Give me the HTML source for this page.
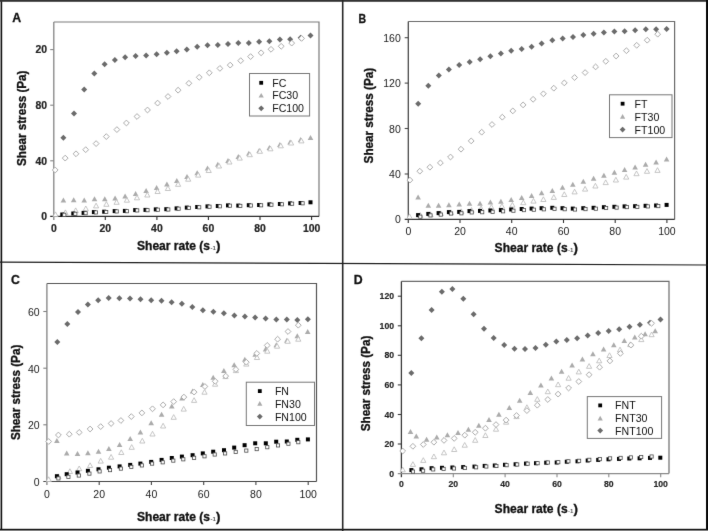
<!DOCTYPE html><html><head><meta charset="utf-8"><style>html,body{margin:0;padding:0;background:#fff;width:708px;height:531px;overflow:hidden}svg{display:block;filter:grayscale(1)}</style></head><body>
<svg width="708" height="531" viewBox="0 0 708 531" font-family='"Liberation Sans", sans-serif'>
<defs><filter id="bl" x="0" y="0" width="100%" height="100%" filterUnits="userSpaceOnUse" color-interpolation-filters="sRGB"><feConvolveMatrix order="3" kernelMatrix="0.00524 0.06192 0.00524 0.06192 0.73137 0.06192 0.00524 0.06192 0.00524" edgeMode="duplicate" preserveAlpha="true"/></filter></defs>
<g filter="url(#bl)">
<rect width="708" height="531" fill="#fff"/>
<path d="M53.8 22.0H319.0V216.4" fill="none" stroke="#7a7a7a" stroke-width="1.2"/>
<path d="M53.8 22.0V220.0" fill="none" stroke="#858585" stroke-width="1.3"/>
<path d="M50.2 216.4H319.0" fill="none" stroke="#2a2a2a" stroke-width="1.2"/>
<path d="M105.3 216.4V220.0" stroke="#2a2a2a" stroke-width="1.1"/>
<path d="M156.9 216.4V220.0" stroke="#2a2a2a" stroke-width="1.1"/>
<path d="M208.4 216.4V220.0" stroke="#2a2a2a" stroke-width="1.1"/>
<path d="M260.0 216.4V220.0" stroke="#2a2a2a" stroke-width="1.1"/>
<path d="M311.6 216.4V220.0" stroke="#2a2a2a" stroke-width="1.1"/>
<path d="M50.2 160.8H53.8" stroke="#858585" stroke-width="1.1"/>
<path d="M50.2 105.2H53.8" stroke="#858585" stroke-width="1.1"/>
<path d="M50.2 49.6H53.8" stroke="#858585" stroke-width="1.1"/>
<text x="47.0" y="220.1" font-size="10.4" font-weight="bold" text-anchor="end" fill="#222" stroke="#222" stroke-width="0.2">0</text>
<text x="47.0" y="164.5" font-size="10.4" font-weight="bold" text-anchor="end" fill="#222" stroke="#222" stroke-width="0.2">40</text>
<text x="47.0" y="108.9" font-size="10.4" font-weight="bold" text-anchor="end" fill="#222" stroke="#222" stroke-width="0.2">80</text>
<text x="47.0" y="53.3" font-size="10.4" font-weight="bold" text-anchor="end" fill="#222" stroke="#222" stroke-width="0.2">20</text>
<text x="53.8" y="231.5" font-size="10.4" font-weight="bold" text-anchor="middle" fill="#222" stroke="#222" stroke-width="0.2">0</text>
<text x="105.3" y="231.5" font-size="10.4" font-weight="bold" text-anchor="middle" fill="#222" stroke="#222" stroke-width="0.2">20</text>
<text x="156.9" y="231.5" font-size="10.4" font-weight="bold" text-anchor="middle" fill="#222" stroke="#222" stroke-width="0.2">40</text>
<text x="208.4" y="231.5" font-size="10.4" font-weight="bold" text-anchor="middle" fill="#222" stroke="#222" stroke-width="0.2">60</text>
<text x="260.0" y="231.5" font-size="10.4" font-weight="bold" text-anchor="middle" fill="#222" stroke="#222" stroke-width="0.2">80</text>
<text x="311.6" y="231.5" font-size="10.4" font-weight="bold" text-anchor="middle" fill="#222" stroke="#222" stroke-width="0.2">100</text>
<text x="12.3" y="21.6" font-size="12.3" font-weight="bold" fill="#111" stroke="#111" stroke-width="0.3">A</text>
<rect x="249.5" y="73.5" width="60.1" height="42.5" fill="#fff" stroke="#777" stroke-width="1"/>
<rect x="259.3" y="80.9" width="3.8" height="3.8" fill="#000"/>
<path d="M261.2 92.9L263.8 97.6L258.6 97.6Z" fill="#ababab"/>
<path d="M261.2 105.4L264.1 108.3L261.2 111.2L258.3 108.3Z" fill="#6b6b6b"/>
<text x="272.2" y="86.7" font-size="10.6" fill="#111">FC</text>
<text x="272.2" y="99.4" font-size="10.6" fill="#111">FC30</text>
<text x="272.2" y="112.2" font-size="10.6" fill="#111">FC100</text>
<text x="137.0" y="249.7" font-size="13.3" font-weight="bold" fill="#111" stroke="#111" stroke-width="0.35" textLength="73.0" lengthAdjust="spacingAndGlyphs">Shear rate (s</text>
<text x="210.4" y="249.7" font-size="4.6" font-weight="bold" fill="#555" textLength="5.4" lengthAdjust="spacingAndGlyphs">-1</text>
<text x="215.9" y="249.7" font-size="13.3" font-weight="bold" fill="#111" stroke="#111" stroke-width="0.35">)</text>
<text transform="translate(26.0 166.0) rotate(-90)" x="0" y="0" font-size="13.3" font-weight="bold" fill="#111" stroke="#111" stroke-width="0.35" textLength="95.5" lengthAdjust="spacingAndGlyphs">Shear stress (Pa)</text>
<path d="M63.4 197.5L66.2 202.5L60.6 202.5Z" fill="#ababab"/>
<path d="M73.7 197.3L76.5 202.3L70.9 202.3Z" fill="#ababab"/>
<path d="M84.2 197.5L87.0 202.5L81.4 202.5Z" fill="#ababab"/>
<path d="M94.5 196.3L97.3 201.3L91.7 201.3Z" fill="#ababab"/>
<path d="M104.8 196.3L107.6 201.3L102.0 201.3Z" fill="#ababab"/>
<path d="M115.1 195.5L117.9 200.5L112.3 200.5Z" fill="#ababab"/>
<path d="M125.1 193.5L127.9 198.5L122.3 198.5Z" fill="#ababab"/>
<path d="M135.6 190.9L138.4 195.9L132.8 195.9Z" fill="#ababab"/>
<path d="M146.1 188.0L148.9 193.0L143.3 193.0Z" fill="#ababab"/>
<path d="M156.6 185.0L159.4 190.0L153.8 190.0Z" fill="#ababab"/>
<path d="M166.9 181.6L169.7 186.6L164.1 186.6Z" fill="#ababab"/>
<path d="M176.8 178.1L179.6 183.1L174.0 183.1Z" fill="#ababab"/>
<path d="M187.0 174.1L189.8 179.1L184.2 179.1Z" fill="#ababab"/>
<path d="M197.2 170.2L200.0 175.2L194.4 175.2Z" fill="#ababab"/>
<path d="M207.5 165.6L210.3 170.6L204.7 170.6Z" fill="#ababab"/>
<path d="M217.8 161.7L220.6 166.7L215.0 166.7Z" fill="#ababab"/>
<path d="M228.0 157.9L230.8 162.9L225.2 162.9Z" fill="#ababab"/>
<path d="M238.3 154.0L241.1 159.0L235.5 159.0Z" fill="#ababab"/>
<path d="M248.8 150.8L251.6 155.8L246.0 155.8Z" fill="#ababab"/>
<path d="M259.1 147.9L261.9 152.9L256.3 152.9Z" fill="#ababab"/>
<path d="M269.4 144.9L272.2 149.9L266.6 149.9Z" fill="#ababab"/>
<path d="M279.9 141.9L282.7 146.9L277.1 146.9Z" fill="#ababab"/>
<path d="M290.1 139.5L292.9 144.5L287.3 144.5Z" fill="#ababab"/>
<path d="M300.6 137.0L303.4 142.0L297.8 142.0Z" fill="#ababab"/>
<path d="M310.5 135.0L313.3 140.0L307.7 140.0Z" fill="#ababab"/>
<path d="M55.5 211.9L58.1 216.6L52.9 216.6Z" fill="#fff" stroke="#b8b8b8" stroke-width="0.8"/>
<path d="M65.4 209.9L68.0 214.6L62.8 214.6Z" fill="#fff" stroke="#b8b8b8" stroke-width="0.8"/>
<path d="M75.7 207.9L78.3 212.6L73.1 212.6Z" fill="#fff" stroke="#b8b8b8" stroke-width="0.8"/>
<path d="M85.8 206.0L88.4 210.7L83.2 210.7Z" fill="#fff" stroke="#b8b8b8" stroke-width="0.8"/>
<path d="M96.1 203.2L98.7 207.9L93.5 207.9Z" fill="#fff" stroke="#b8b8b8" stroke-width="0.8"/>
<path d="M106.4 201.6L109.0 206.3L103.8 206.3Z" fill="#fff" stroke="#b8b8b8" stroke-width="0.8"/>
<path d="M116.6 199.6L119.2 204.3L114.0 204.3Z" fill="#fff" stroke="#b8b8b8" stroke-width="0.8"/>
<path d="M126.9 197.5L129.5 202.2L124.3 202.2Z" fill="#fff" stroke="#b8b8b8" stroke-width="0.8"/>
<path d="M137.0 195.1L139.6 199.8L134.4 199.8Z" fill="#fff" stroke="#b8b8b8" stroke-width="0.8"/>
<path d="M147.3 192.3L149.9 197.0L144.7 197.0Z" fill="#fff" stroke="#b8b8b8" stroke-width="0.8"/>
<path d="M157.6 188.8L160.2 193.5L155.0 193.5Z" fill="#fff" stroke="#b8b8b8" stroke-width="0.8"/>
<path d="M167.9 185.8L170.5 190.5L165.3 190.5Z" fill="#fff" stroke="#b8b8b8" stroke-width="0.8"/>
<path d="M178.1 181.6L180.7 186.3L175.5 186.3Z" fill="#fff" stroke="#b8b8b8" stroke-width="0.8"/>
<path d="M188.2 176.5L190.8 181.2L185.6 181.2Z" fill="#fff" stroke="#b8b8b8" stroke-width="0.8"/>
<path d="M198.2 172.4L200.8 177.1L195.6 177.1Z" fill="#fff" stroke="#b8b8b8" stroke-width="0.8"/>
<path d="M208.7 167.8L211.3 172.5L206.1 172.5Z" fill="#fff" stroke="#b8b8b8" stroke-width="0.8"/>
<path d="M219.0 163.3L221.6 168.0L216.4 168.0Z" fill="#fff" stroke="#b8b8b8" stroke-width="0.8"/>
<path d="M229.4 159.3L232.0 164.0L226.8 164.0Z" fill="#fff" stroke="#b8b8b8" stroke-width="0.8"/>
<path d="M239.7 155.4L242.3 160.1L237.1 160.1Z" fill="#fff" stroke="#b8b8b8" stroke-width="0.8"/>
<path d="M249.8 152.0L252.4 156.7L247.2 156.7Z" fill="#fff" stroke="#b8b8b8" stroke-width="0.8"/>
<path d="M259.9 148.6L262.5 153.3L257.3 153.3Z" fill="#fff" stroke="#b8b8b8" stroke-width="0.8"/>
<path d="M270.4 146.1L273.0 150.8L267.8 150.8Z" fill="#fff" stroke="#b8b8b8" stroke-width="0.8"/>
<path d="M280.8 143.1L283.4 147.8L278.2 147.8Z" fill="#fff" stroke="#b8b8b8" stroke-width="0.8"/>
<path d="M291.1 140.3L293.7 145.0L288.5 145.0Z" fill="#fff" stroke="#b8b8b8" stroke-width="0.8"/>
<path d="M301.4 138.2L304.0 142.9L298.8 142.9Z" fill="#fff" stroke="#b8b8b8" stroke-width="0.8"/>
<rect x="60.3" y="212.5" width="4.0" height="4.0" fill="#000"/>
<rect x="71.3" y="211.5" width="4.0" height="4.0" fill="#000"/>
<rect x="81.6" y="210.9" width="4.0" height="4.0" fill="#000"/>
<rect x="91.9" y="210.1" width="4.0" height="4.0" fill="#000"/>
<rect x="102.2" y="209.7" width="4.0" height="4.0" fill="#000"/>
<rect x="112.7" y="209.1" width="4.0" height="4.0" fill="#000"/>
<rect x="122.9" y="208.9" width="4.0" height="4.0" fill="#000"/>
<rect x="133.2" y="208.1" width="4.0" height="4.0" fill="#000"/>
<rect x="143.5" y="207.9" width="4.0" height="4.0" fill="#000"/>
<rect x="153.8" y="207.4" width="4.0" height="4.0" fill="#000"/>
<rect x="164.3" y="207.2" width="4.0" height="4.0" fill="#000"/>
<rect x="174.6" y="206.4" width="4.0" height="4.0" fill="#000"/>
<rect x="184.8" y="205.6" width="4.0" height="4.0" fill="#000"/>
<rect x="195.2" y="205.0" width="4.0" height="4.0" fill="#000"/>
<rect x="205.5" y="204.4" width="4.0" height="4.0" fill="#000"/>
<rect x="215.8" y="204.0" width="4.0" height="4.0" fill="#000"/>
<rect x="226.0" y="203.4" width="4.0" height="4.0" fill="#000"/>
<rect x="236.3" y="203.6" width="4.0" height="4.0" fill="#000"/>
<rect x="246.8" y="203.2" width="4.0" height="4.0" fill="#000"/>
<rect x="257.1" y="203.0" width="4.0" height="4.0" fill="#000"/>
<rect x="267.4" y="202.4" width="4.0" height="4.0" fill="#000"/>
<rect x="277.9" y="202.0" width="4.0" height="4.0" fill="#000"/>
<rect x="288.1" y="201.4" width="4.0" height="4.0" fill="#000"/>
<rect x="298.6" y="201.0" width="4.0" height="4.0" fill="#000"/>
<rect x="308.5" y="200.3" width="4.0" height="4.0" fill="#000"/>
<rect x="62.7" y="213.2" width="3.2" height="3.2" fill="#fff" stroke="#4a4a4a" stroke-width="0.8"/>
<rect x="73.7" y="212.2" width="3.2" height="3.2" fill="#fff" stroke="#4a4a4a" stroke-width="0.8"/>
<rect x="84.0" y="211.6" width="3.2" height="3.2" fill="#fff" stroke="#4a4a4a" stroke-width="0.8"/>
<rect x="94.3" y="210.8" width="3.2" height="3.2" fill="#fff" stroke="#4a4a4a" stroke-width="0.8"/>
<rect x="104.6" y="210.4" width="3.2" height="3.2" fill="#fff" stroke="#4a4a4a" stroke-width="0.8"/>
<rect x="115.1" y="209.8" width="3.2" height="3.2" fill="#fff" stroke="#4a4a4a" stroke-width="0.8"/>
<rect x="125.3" y="209.6" width="3.2" height="3.2" fill="#fff" stroke="#4a4a4a" stroke-width="0.8"/>
<rect x="135.6" y="208.8" width="3.2" height="3.2" fill="#fff" stroke="#4a4a4a" stroke-width="0.8"/>
<rect x="145.9" y="208.6" width="3.2" height="3.2" fill="#fff" stroke="#4a4a4a" stroke-width="0.8"/>
<rect x="156.2" y="208.1" width="3.2" height="3.2" fill="#fff" stroke="#4a4a4a" stroke-width="0.8"/>
<rect x="166.7" y="207.9" width="3.2" height="3.2" fill="#fff" stroke="#4a4a4a" stroke-width="0.8"/>
<rect x="177.0" y="207.1" width="3.2" height="3.2" fill="#fff" stroke="#4a4a4a" stroke-width="0.8"/>
<rect x="187.2" y="206.3" width="3.2" height="3.2" fill="#fff" stroke="#4a4a4a" stroke-width="0.8"/>
<rect x="197.6" y="205.7" width="3.2" height="3.2" fill="#fff" stroke="#4a4a4a" stroke-width="0.8"/>
<rect x="207.9" y="205.1" width="3.2" height="3.2" fill="#fff" stroke="#4a4a4a" stroke-width="0.8"/>
<rect x="218.2" y="204.7" width="3.2" height="3.2" fill="#fff" stroke="#4a4a4a" stroke-width="0.8"/>
<rect x="228.4" y="204.1" width="3.2" height="3.2" fill="#fff" stroke="#4a4a4a" stroke-width="0.8"/>
<rect x="238.7" y="204.3" width="3.2" height="3.2" fill="#fff" stroke="#4a4a4a" stroke-width="0.8"/>
<rect x="249.2" y="203.9" width="3.2" height="3.2" fill="#fff" stroke="#4a4a4a" stroke-width="0.8"/>
<rect x="259.5" y="203.7" width="3.2" height="3.2" fill="#fff" stroke="#4a4a4a" stroke-width="0.8"/>
<rect x="269.8" y="203.1" width="3.2" height="3.2" fill="#fff" stroke="#4a4a4a" stroke-width="0.8"/>
<rect x="280.3" y="202.7" width="3.2" height="3.2" fill="#fff" stroke="#4a4a4a" stroke-width="0.8"/>
<rect x="290.5" y="202.1" width="3.2" height="3.2" fill="#fff" stroke="#4a4a4a" stroke-width="0.8"/>
<rect x="301.0" y="201.7" width="3.2" height="3.2" fill="#fff" stroke="#4a4a4a" stroke-width="0.8"/>
<path d="M63.4 134.7L66.4 137.7L63.4 140.7L60.4 137.7Z" fill="#6b6b6b"/>
<path d="M74.0 110.6L77.0 113.6L74.0 116.6L71.0 113.6Z" fill="#6b6b6b"/>
<path d="M84.2 86.4L87.2 89.4L84.2 92.4L81.2 89.4Z" fill="#6b6b6b"/>
<path d="M94.3 70.4L97.3 73.4L94.3 76.4L91.3 73.4Z" fill="#6b6b6b"/>
<path d="M104.6 61.3L107.6 64.3L104.6 67.3L101.6 64.3Z" fill="#6b6b6b"/>
<path d="M114.9 56.9L117.9 59.9L114.9 62.9L111.9 59.9Z" fill="#6b6b6b"/>
<path d="M125.1 54.2L128.1 57.2L125.1 60.2L122.1 57.2Z" fill="#6b6b6b"/>
<path d="M135.6 53.0L138.6 56.0L135.6 59.0L132.6 56.0Z" fill="#6b6b6b"/>
<path d="M146.1 52.4L149.1 55.4L146.1 58.4L143.1 55.4Z" fill="#6b6b6b"/>
<path d="M156.6 51.2L159.6 54.2L156.6 57.2L153.6 54.2Z" fill="#6b6b6b"/>
<path d="M166.9 49.8L169.9 52.8L166.9 55.8L163.9 52.8Z" fill="#6b6b6b"/>
<path d="M176.6 48.2L179.6 51.2L176.6 54.2L173.6 51.2Z" fill="#6b6b6b"/>
<path d="M186.8 46.6L189.8 49.6L186.8 52.6L183.8 49.6Z" fill="#6b6b6b"/>
<path d="M197.2 43.7L200.2 46.7L197.2 49.7L194.2 46.7Z" fill="#6b6b6b"/>
<path d="M207.5 42.3L210.5 45.3L207.5 48.3L204.5 45.3Z" fill="#6b6b6b"/>
<path d="M217.8 42.1L220.8 45.1L217.8 48.1L214.8 45.1Z" fill="#6b6b6b"/>
<path d="M228.0 41.1L231.0 44.1L228.0 47.1L225.0 44.1Z" fill="#6b6b6b"/>
<path d="M238.3 40.1L241.3 43.1L238.3 46.1L235.3 43.1Z" fill="#6b6b6b"/>
<path d="M248.8 40.1L251.8 43.1L248.8 46.1L245.8 43.1Z" fill="#6b6b6b"/>
<path d="M259.1 38.8L262.1 41.8L259.1 44.8L256.1 41.8Z" fill="#6b6b6b"/>
<path d="M269.4 38.2L272.4 41.2L269.4 44.2L266.4 41.2Z" fill="#6b6b6b"/>
<path d="M279.9 36.4L282.9 39.4L279.9 42.4L276.9 39.4Z" fill="#6b6b6b"/>
<path d="M290.1 36.2L293.1 39.2L290.1 42.2L287.1 39.2Z" fill="#6b6b6b"/>
<path d="M300.6 34.8L303.6 37.8L300.6 40.8L297.6 37.8Z" fill="#6b6b6b"/>
<path d="M310.5 32.6L313.5 35.6L310.5 38.6L307.5 35.6Z" fill="#6b6b6b"/>
<path d="M55.2 167.1L58.1 170.0L55.2 172.9L52.3 170.0Z" fill="#fff" stroke="#a2a2a2" stroke-width="0.9"/>
<path d="M65.2 155.2L68.1 158.1L65.2 161.0L62.3 158.1Z" fill="#fff" stroke="#a2a2a2" stroke-width="0.9"/>
<path d="M76.0 150.9L78.9 153.8L76.0 156.7L73.1 153.8Z" fill="#fff" stroke="#a2a2a2" stroke-width="0.9"/>
<path d="M85.7 146.8L88.6 149.7L85.7 152.6L82.8 149.7Z" fill="#fff" stroke="#a2a2a2" stroke-width="0.9"/>
<path d="M96.1 140.7L99.0 143.6L96.1 146.5L93.2 143.6Z" fill="#fff" stroke="#a2a2a2" stroke-width="0.9"/>
<path d="M106.3 133.7L109.2 136.6L106.3 139.5L103.4 136.6Z" fill="#fff" stroke="#a2a2a2" stroke-width="0.9"/>
<path d="M116.9 126.7L119.8 129.6L116.9 132.5L114.0 129.6Z" fill="#fff" stroke="#a2a2a2" stroke-width="0.9"/>
<path d="M126.4 120.1L129.3 123.0L126.4 125.9L123.5 123.0Z" fill="#fff" stroke="#a2a2a2" stroke-width="0.9"/>
<path d="M137.0 113.6L139.9 116.5L137.0 119.4L134.1 116.5Z" fill="#fff" stroke="#a2a2a2" stroke-width="0.9"/>
<path d="M147.5 107.1L150.4 110.0L147.5 112.9L144.6 110.0Z" fill="#fff" stroke="#a2a2a2" stroke-width="0.9"/>
<path d="M157.6 100.2L160.5 103.1L157.6 106.0L154.7 103.1Z" fill="#fff" stroke="#a2a2a2" stroke-width="0.9"/>
<path d="M168.0 93.6L170.9 96.5L168.0 99.4L165.1 96.5Z" fill="#fff" stroke="#a2a2a2" stroke-width="0.9"/>
<path d="M178.1 87.3L181.0 90.2L178.1 93.1L175.2 90.2Z" fill="#fff" stroke="#a2a2a2" stroke-width="0.9"/>
<path d="M188.9 80.4L191.8 83.3L188.9 86.2L186.0 83.3Z" fill="#fff" stroke="#a2a2a2" stroke-width="0.9"/>
<path d="M199.2 74.4L202.1 77.3L199.2 80.2L196.3 77.3Z" fill="#fff" stroke="#a2a2a2" stroke-width="0.9"/>
<path d="M209.3 69.9L212.2 72.8L209.3 75.7L206.4 72.8Z" fill="#fff" stroke="#a2a2a2" stroke-width="0.9"/>
<path d="M219.9 65.5L222.8 68.4L219.9 71.3L217.0 68.4Z" fill="#fff" stroke="#a2a2a2" stroke-width="0.9"/>
<path d="M230.2 62.2L233.1 65.1L230.2 68.0L227.3 65.1Z" fill="#fff" stroke="#a2a2a2" stroke-width="0.9"/>
<path d="M240.7 57.8L243.6 60.7L240.7 63.6L237.8 60.7Z" fill="#fff" stroke="#a2a2a2" stroke-width="0.9"/>
<path d="M250.6 53.7L253.5 56.6L250.6 59.5L247.7 56.6Z" fill="#fff" stroke="#a2a2a2" stroke-width="0.9"/>
<path d="M261.1 49.9L264.0 52.8L261.1 55.7L258.2 52.8Z" fill="#fff" stroke="#a2a2a2" stroke-width="0.9"/>
<path d="M271.0 46.4L273.9 49.3L271.0 52.2L268.1 49.3Z" fill="#fff" stroke="#a2a2a2" stroke-width="0.9"/>
<path d="M281.2 43.4L284.1 46.3L281.2 49.2L278.3 46.3Z" fill="#fff" stroke="#a2a2a2" stroke-width="0.9"/>
<path d="M291.7 40.2L294.6 43.1L291.7 46.0L288.8 43.1Z" fill="#fff" stroke="#a2a2a2" stroke-width="0.9"/>
<path d="M301.6 35.5L304.5 38.4L301.6 41.3L298.7 38.4Z" fill="#fff" stroke="#a2a2a2" stroke-width="0.9"/>
<path d="M408.3 21.5H674.6V219.4" fill="none" stroke="#6a6a6a" stroke-width="1.2"/>
<path d="M408.3 21.5V223.0" fill="none" stroke="#4a4a4a" stroke-width="1.3"/>
<path d="M404.7 219.4H674.6" fill="none" stroke="#333" stroke-width="1.2"/>
<path d="M460.0 219.4V223.0" stroke="#333" stroke-width="1.1"/>
<path d="M511.7 219.4V223.0" stroke="#333" stroke-width="1.1"/>
<path d="M563.5 219.4V223.0" stroke="#333" stroke-width="1.1"/>
<path d="M615.2 219.4V223.0" stroke="#333" stroke-width="1.1"/>
<path d="M666.9 219.4V223.0" stroke="#333" stroke-width="1.1"/>
<path d="M404.7 174.0H408.3" stroke="#4a4a4a" stroke-width="1.1"/>
<path d="M404.7 128.5H408.3" stroke="#4a4a4a" stroke-width="1.1"/>
<path d="M404.7 83.1H408.3" stroke="#4a4a4a" stroke-width="1.1"/>
<path d="M404.7 37.7H408.3" stroke="#4a4a4a" stroke-width="1.1"/>
<text x="400.8" y="223.4" font-size="10.5" font-weight="normal" text-anchor="end" fill="#222">0</text>
<text x="400.8" y="177.9" font-size="10.5" font-weight="normal" text-anchor="end" fill="#222">40</text>
<text x="400.8" y="132.5" font-size="10.5" font-weight="normal" text-anchor="end" fill="#222">80</text>
<text x="400.8" y="87.1" font-size="10.5" font-weight="normal" text-anchor="end" fill="#222">120</text>
<text x="400.8" y="41.7" font-size="10.5" font-weight="normal" text-anchor="end" fill="#222">160</text>
<text x="408.3" y="234.8" font-size="10.5" font-weight="normal" text-anchor="middle" fill="#222">0</text>
<text x="460.0" y="234.8" font-size="10.5" font-weight="normal" text-anchor="middle" fill="#222">20</text>
<text x="511.7" y="234.8" font-size="10.5" font-weight="normal" text-anchor="middle" fill="#222">40</text>
<text x="563.5" y="234.8" font-size="10.5" font-weight="normal" text-anchor="middle" fill="#222">60</text>
<text x="615.2" y="234.8" font-size="10.5" font-weight="normal" text-anchor="middle" fill="#222">80</text>
<text x="666.9" y="234.8" font-size="10.5" font-weight="normal" text-anchor="middle" fill="#222">100</text>
<text x="358.4" y="23.3" font-size="12.3" font-weight="bold" fill="#111" stroke="#111" stroke-width="0.3" textLength="7.6" lengthAdjust="spacingAndGlyphs">B</text>
<rect x="609.5" y="94.8" width="62.5" height="42.8" fill="#fff" stroke="#777" stroke-width="1"/>
<rect x="620.7" y="101.8" width="3.8" height="3.8" fill="#000"/>
<path d="M622.6 114.0L625.2 118.7L620.0 118.7Z" fill="#ababab"/>
<path d="M622.6 126.7L625.5 129.6L622.6 132.5L619.7 129.6Z" fill="#6b6b6b"/>
<text x="634.6" y="107.6" font-size="10.6" fill="#111">FT</text>
<text x="634.6" y="120.5" font-size="10.6" fill="#111">FT30</text>
<text x="634.6" y="133.5" font-size="10.6" fill="#111">FT100</text>
<text x="494.6" y="252.4" font-size="13.3" font-weight="bold" fill="#111" stroke="#111" stroke-width="0.35" textLength="73.0" lengthAdjust="spacingAndGlyphs">Shear rate (s</text>
<text x="568.0" y="252.4" font-size="4.6" font-weight="bold" fill="#555" textLength="5.4" lengthAdjust="spacingAndGlyphs">-1</text>
<text x="573.5" y="252.4" font-size="13.3" font-weight="bold" fill="#111" stroke="#111" stroke-width="0.35">)</text>
<text transform="translate(373.0 163.4) rotate(-90)" x="0" y="0" font-size="13.3" font-weight="bold" fill="#111" stroke="#111" stroke-width="0.35" textLength="95.5" lengthAdjust="spacingAndGlyphs">Shear stress (Pa)</text>
<path d="M418.1 194.5L420.9 199.5L415.3 199.5Z" fill="#ababab"/>
<path d="M428.3 202.8L431.1 207.8L425.5 207.8Z" fill="#ababab"/>
<path d="M438.6 202.8L441.4 207.8L435.8 207.8Z" fill="#ababab"/>
<path d="M448.9 202.2L451.7 207.2L446.1 207.2Z" fill="#ababab"/>
<path d="M459.2 201.4L462.0 206.4L456.4 206.4Z" fill="#ababab"/>
<path d="M469.5 200.8L472.3 205.8L466.7 205.8Z" fill="#ababab"/>
<path d="M480.0 200.8L482.8 205.8L477.2 205.8Z" fill="#ababab"/>
<path d="M490.4 199.4L493.2 204.4L487.6 204.4Z" fill="#ababab"/>
<path d="M500.9 198.8L503.7 203.8L498.1 203.8Z" fill="#ababab"/>
<path d="M511.2 196.9L514.0 201.9L508.4 201.9Z" fill="#ababab"/>
<path d="M521.7 194.9L524.5 199.9L518.9 199.9Z" fill="#ababab"/>
<path d="M531.6 192.9L534.4 197.9L528.8 197.9Z" fill="#ababab"/>
<path d="M541.6 190.3L544.4 195.3L538.8 195.3Z" fill="#ababab"/>
<path d="M552.3 188.0L555.1 193.0L549.5 193.0Z" fill="#ababab"/>
<path d="M562.5 184.7L565.3 189.7L559.7 189.7Z" fill="#ababab"/>
<path d="M572.8 181.7L575.6 186.7L570.0 186.7Z" fill="#ababab"/>
<path d="M583.3 178.7L586.1 183.7L580.5 183.7Z" fill="#ababab"/>
<path d="M593.6 175.8L596.4 180.8L590.8 180.8Z" fill="#ababab"/>
<path d="M603.9 172.8L606.7 177.8L601.1 177.8Z" fill="#ababab"/>
<path d="M614.4 169.8L617.2 174.8L611.6 174.8Z" fill="#ababab"/>
<path d="M624.6 166.9L627.4 171.9L621.8 171.9Z" fill="#ababab"/>
<path d="M635.1 164.5L637.9 169.5L632.3 169.5Z" fill="#ababab"/>
<path d="M645.6 161.7L648.4 166.7L642.8 166.7Z" fill="#ababab"/>
<path d="M656.1 159.5L658.9 164.5L653.3 164.5Z" fill="#ababab"/>
<path d="M666.6 156.6L669.4 161.6L663.8 161.6Z" fill="#ababab"/>
<path d="M409.5 213.9L412.1 218.6L406.9 218.6Z" fill="#fff" stroke="#b8b8b8" stroke-width="0.8"/>
<path d="M420.3 212.6L422.9 217.3L417.7 217.3Z" fill="#fff" stroke="#b8b8b8" stroke-width="0.8"/>
<path d="M430.5 211.9L433.1 216.6L427.9 216.6Z" fill="#fff" stroke="#b8b8b8" stroke-width="0.8"/>
<path d="M440.8 210.9L443.4 215.6L438.2 215.6Z" fill="#fff" stroke="#b8b8b8" stroke-width="0.8"/>
<path d="M451.0 209.9L453.6 214.6L448.4 214.6Z" fill="#fff" stroke="#b8b8b8" stroke-width="0.8"/>
<path d="M461.3 208.9L463.9 213.6L458.7 213.6Z" fill="#fff" stroke="#b8b8b8" stroke-width="0.8"/>
<path d="M471.5 207.6L474.1 212.3L468.9 212.3Z" fill="#fff" stroke="#b8b8b8" stroke-width="0.8"/>
<path d="M481.1 206.0L483.7 210.7L478.5 210.7Z" fill="#fff" stroke="#b8b8b8" stroke-width="0.8"/>
<path d="M491.4 204.6L494.0 209.3L488.8 209.3Z" fill="#fff" stroke="#b8b8b8" stroke-width="0.8"/>
<path d="M501.9 203.6L504.5 208.3L499.3 208.3Z" fill="#fff" stroke="#b8b8b8" stroke-width="0.8"/>
<path d="M512.4 202.4L515.0 207.1L509.8 207.1Z" fill="#fff" stroke="#b8b8b8" stroke-width="0.8"/>
<path d="M523.3 200.0L525.9 204.7L520.7 204.7Z" fill="#fff" stroke="#b8b8b8" stroke-width="0.8"/>
<path d="M533.5 198.4L536.1 203.1L530.9 203.1Z" fill="#fff" stroke="#b8b8b8" stroke-width="0.8"/>
<path d="M543.4 196.8L546.0 201.5L540.8 201.5Z" fill="#fff" stroke="#b8b8b8" stroke-width="0.8"/>
<path d="M553.8 194.7L556.4 199.4L551.2 199.4Z" fill="#fff" stroke="#b8b8b8" stroke-width="0.8"/>
<path d="M564.3 191.8L566.9 196.5L561.7 196.5Z" fill="#fff" stroke="#b8b8b8" stroke-width="0.8"/>
<path d="M574.6 189.2L577.2 193.9L572.0 193.9Z" fill="#fff" stroke="#b8b8b8" stroke-width="0.8"/>
<path d="M585.1 186.4L587.7 191.1L582.5 191.1Z" fill="#fff" stroke="#b8b8b8" stroke-width="0.8"/>
<path d="M595.4 183.3L598.0 188.0L592.8 188.0Z" fill="#fff" stroke="#b8b8b8" stroke-width="0.8"/>
<path d="M605.7 179.9L608.3 184.6L603.1 184.6Z" fill="#fff" stroke="#b8b8b8" stroke-width="0.8"/>
<path d="M615.9 177.3L618.5 182.0L613.3 182.0Z" fill="#fff" stroke="#b8b8b8" stroke-width="0.8"/>
<path d="M626.2 174.4L628.8 179.1L623.6 179.1Z" fill="#fff" stroke="#b8b8b8" stroke-width="0.8"/>
<path d="M636.5 171.0L639.1 175.7L633.9 175.7Z" fill="#fff" stroke="#b8b8b8" stroke-width="0.8"/>
<path d="M647.0 168.6L649.6 173.3L644.4 173.3Z" fill="#fff" stroke="#b8b8b8" stroke-width="0.8"/>
<path d="M657.5 167.7L660.1 172.4L654.9 172.4Z" fill="#fff" stroke="#b8b8b8" stroke-width="0.8"/>
<rect x="416.1" y="213.1" width="4.0" height="4.0" fill="#000"/>
<rect x="426.3" y="211.9" width="4.0" height="4.0" fill="#000"/>
<rect x="436.6" y="211.1" width="4.0" height="4.0" fill="#000"/>
<rect x="446.9" y="210.1" width="4.0" height="4.0" fill="#000"/>
<rect x="457.2" y="209.9" width="4.0" height="4.0" fill="#000"/>
<rect x="467.5" y="209.1" width="4.0" height="4.0" fill="#000"/>
<rect x="478.0" y="208.9" width="4.0" height="4.0" fill="#000"/>
<rect x="488.4" y="208.5" width="4.0" height="4.0" fill="#000"/>
<rect x="498.9" y="208.1" width="4.0" height="4.0" fill="#000"/>
<rect x="509.2" y="207.5" width="4.0" height="4.0" fill="#000"/>
<rect x="519.7" y="207.0" width="4.0" height="4.0" fill="#000"/>
<rect x="529.6" y="206.6" width="4.0" height="4.0" fill="#000"/>
<rect x="539.6" y="206.2" width="4.0" height="4.0" fill="#000"/>
<rect x="550.3" y="205.8" width="4.0" height="4.0" fill="#000"/>
<rect x="560.5" y="206.2" width="4.0" height="4.0" fill="#000"/>
<rect x="570.8" y="206.6" width="4.0" height="4.0" fill="#000"/>
<rect x="581.3" y="206.2" width="4.0" height="4.0" fill="#000"/>
<rect x="591.6" y="205.8" width="4.0" height="4.0" fill="#000"/>
<rect x="601.9" y="205.2" width="4.0" height="4.0" fill="#000"/>
<rect x="612.4" y="204.8" width="4.0" height="4.0" fill="#000"/>
<rect x="622.6" y="204.4" width="4.0" height="4.0" fill="#000"/>
<rect x="633.1" y="204.2" width="4.0" height="4.0" fill="#000"/>
<rect x="643.6" y="203.8" width="4.0" height="4.0" fill="#000"/>
<rect x="654.1" y="203.5" width="4.0" height="4.0" fill="#000"/>
<rect x="664.6" y="202.9" width="4.0" height="4.0" fill="#000"/>
<rect x="418.7" y="215.1" width="3.2" height="3.2" fill="#fff" stroke="#4a4a4a" stroke-width="0.8"/>
<rect x="428.9" y="213.8" width="3.2" height="3.2" fill="#fff" stroke="#4a4a4a" stroke-width="0.8"/>
<rect x="439.2" y="213.0" width="3.2" height="3.2" fill="#fff" stroke="#4a4a4a" stroke-width="0.8"/>
<rect x="449.5" y="211.9" width="3.2" height="3.2" fill="#fff" stroke="#4a4a4a" stroke-width="0.8"/>
<rect x="459.8" y="211.7" width="3.2" height="3.2" fill="#fff" stroke="#4a4a4a" stroke-width="0.8"/>
<rect x="470.1" y="210.8" width="3.2" height="3.2" fill="#fff" stroke="#4a4a4a" stroke-width="0.8"/>
<rect x="480.6" y="210.6" width="3.2" height="3.2" fill="#fff" stroke="#4a4a4a" stroke-width="0.8"/>
<rect x="491.0" y="210.2" width="3.2" height="3.2" fill="#fff" stroke="#4a4a4a" stroke-width="0.8"/>
<rect x="501.5" y="209.7" width="3.2" height="3.2" fill="#fff" stroke="#4a4a4a" stroke-width="0.8"/>
<rect x="511.8" y="209.1" width="3.2" height="3.2" fill="#fff" stroke="#4a4a4a" stroke-width="0.8"/>
<rect x="522.3" y="208.5" width="3.2" height="3.2" fill="#fff" stroke="#4a4a4a" stroke-width="0.8"/>
<rect x="532.2" y="208.1" width="3.2" height="3.2" fill="#fff" stroke="#4a4a4a" stroke-width="0.8"/>
<rect x="542.2" y="207.7" width="3.2" height="3.2" fill="#fff" stroke="#4a4a4a" stroke-width="0.8"/>
<rect x="552.9" y="207.2" width="3.2" height="3.2" fill="#fff" stroke="#4a4a4a" stroke-width="0.8"/>
<rect x="563.1" y="207.6" width="3.2" height="3.2" fill="#fff" stroke="#4a4a4a" stroke-width="0.8"/>
<rect x="573.4" y="207.9" width="3.2" height="3.2" fill="#fff" stroke="#4a4a4a" stroke-width="0.8"/>
<rect x="583.9" y="207.5" width="3.2" height="3.2" fill="#fff" stroke="#4a4a4a" stroke-width="0.8"/>
<rect x="594.2" y="207.1" width="3.2" height="3.2" fill="#fff" stroke="#4a4a4a" stroke-width="0.8"/>
<rect x="604.5" y="206.4" width="3.2" height="3.2" fill="#fff" stroke="#4a4a4a" stroke-width="0.8"/>
<rect x="615.0" y="206.0" width="3.2" height="3.2" fill="#fff" stroke="#4a4a4a" stroke-width="0.8"/>
<rect x="625.2" y="205.5" width="3.2" height="3.2" fill="#fff" stroke="#4a4a4a" stroke-width="0.8"/>
<rect x="635.7" y="205.3" width="3.2" height="3.2" fill="#fff" stroke="#4a4a4a" stroke-width="0.8"/>
<rect x="646.2" y="204.8" width="3.2" height="3.2" fill="#fff" stroke="#4a4a4a" stroke-width="0.8"/>
<rect x="656.7" y="204.5" width="3.2" height="3.2" fill="#fff" stroke="#4a4a4a" stroke-width="0.8"/>
<path d="M418.2 100.8L421.2 103.8L418.2 106.8L415.2 103.8Z" fill="#6b6b6b"/>
<path d="M428.3 82.8L431.3 85.8L428.3 88.8L425.3 85.8Z" fill="#6b6b6b"/>
<path d="M438.8 72.4L441.8 75.4L438.8 78.4L435.8 75.4Z" fill="#6b6b6b"/>
<path d="M448.9 66.4L451.9 69.4L448.9 72.4L445.9 69.4Z" fill="#6b6b6b"/>
<path d="M459.2 62.1L462.2 65.1L459.2 68.1L456.2 65.1Z" fill="#6b6b6b"/>
<path d="M469.7 59.1L472.7 62.1L469.7 65.1L466.7 62.1Z" fill="#6b6b6b"/>
<path d="M480.1 56.2L483.1 59.2L480.1 62.2L477.1 59.2Z" fill="#6b6b6b"/>
<path d="M490.4 53.2L493.4 56.2L490.4 59.2L487.4 56.2Z" fill="#6b6b6b"/>
<path d="M500.9 50.6L503.9 53.6L500.9 56.6L497.9 53.6Z" fill="#6b6b6b"/>
<path d="M511.2 47.7L514.2 50.7L511.2 53.7L508.2 50.7Z" fill="#6b6b6b"/>
<path d="M521.7 46.1L524.7 49.1L521.7 52.1L518.7 49.1Z" fill="#6b6b6b"/>
<path d="M531.6 43.7L534.6 46.7L531.6 49.7L528.6 46.7Z" fill="#6b6b6b"/>
<path d="M541.6 40.5L544.6 43.5L541.6 46.5L538.6 43.5Z" fill="#6b6b6b"/>
<path d="M552.3 37.2L555.3 40.2L552.3 43.2L549.3 40.2Z" fill="#6b6b6b"/>
<path d="M562.7 35.4L565.7 38.4L562.7 41.4L559.7 38.4Z" fill="#6b6b6b"/>
<path d="M573.0 34.0L576.0 37.0L573.0 40.0L570.0 37.0Z" fill="#6b6b6b"/>
<path d="M583.3 32.0L586.3 35.0L583.3 38.0L580.3 35.0Z" fill="#6b6b6b"/>
<path d="M593.6 30.8L596.6 33.8L593.6 36.8L590.6 33.8Z" fill="#6b6b6b"/>
<path d="M603.9 29.5L606.9 32.5L603.9 35.5L600.9 32.5Z" fill="#6b6b6b"/>
<path d="M614.4 28.5L617.4 31.5L614.4 34.5L611.4 31.5Z" fill="#6b6b6b"/>
<path d="M624.6 28.3L627.6 31.3L624.6 34.3L621.6 31.3Z" fill="#6b6b6b"/>
<path d="M635.1 27.3L638.1 30.3L635.1 33.3L632.1 30.3Z" fill="#6b6b6b"/>
<path d="M645.8 26.3L648.8 29.3L645.8 32.3L642.8 29.3Z" fill="#6b6b6b"/>
<path d="M656.1 26.3L659.1 29.3L656.1 32.3L653.1 29.3Z" fill="#6b6b6b"/>
<path d="M666.6 25.9L669.6 28.9L666.6 31.9L663.6 28.9Z" fill="#6b6b6b"/>
<path d="M409.9 177.2L412.8 180.1L409.9 183.0L407.0 180.1Z" fill="#fff" stroke="#a2a2a2" stroke-width="0.9"/>
<path d="M419.8 168.3L422.7 171.2L419.8 174.1L416.9 171.2Z" fill="#fff" stroke="#a2a2a2" stroke-width="0.9"/>
<path d="M429.9 164.3L432.8 167.2L429.9 170.1L427.0 167.2Z" fill="#fff" stroke="#a2a2a2" stroke-width="0.9"/>
<path d="M440.4 160.0L443.3 162.9L440.4 165.8L437.5 162.9Z" fill="#fff" stroke="#a2a2a2" stroke-width="0.9"/>
<path d="M450.5 154.1L453.4 157.0L450.5 159.9L447.6 157.0Z" fill="#fff" stroke="#a2a2a2" stroke-width="0.9"/>
<path d="M461.0 146.3L463.9 149.2L461.0 152.1L458.1 149.2Z" fill="#fff" stroke="#a2a2a2" stroke-width="0.9"/>
<path d="M471.2 138.0L474.1 140.9L471.2 143.8L468.3 140.9Z" fill="#fff" stroke="#a2a2a2" stroke-width="0.9"/>
<path d="M481.7 129.3L484.6 132.2L481.7 135.1L478.8 132.2Z" fill="#fff" stroke="#a2a2a2" stroke-width="0.9"/>
<path d="M492.0 121.6L494.9 124.5L492.0 127.4L489.1 124.5Z" fill="#fff" stroke="#a2a2a2" stroke-width="0.9"/>
<path d="M502.3 114.3L505.2 117.2L502.3 120.1L499.4 117.2Z" fill="#fff" stroke="#a2a2a2" stroke-width="0.9"/>
<path d="M512.8 108.0L515.7 110.9L512.8 113.8L509.9 110.9Z" fill="#fff" stroke="#a2a2a2" stroke-width="0.9"/>
<path d="M523.1 102.0L526.0 104.9L523.1 107.8L520.2 104.9Z" fill="#fff" stroke="#a2a2a2" stroke-width="0.9"/>
<path d="M533.1 96.4L536.0 99.3L533.1 102.2L530.2 99.3Z" fill="#fff" stroke="#a2a2a2" stroke-width="0.9"/>
<path d="M543.4 90.9L546.3 93.8L543.4 96.7L540.5 93.8Z" fill="#fff" stroke="#a2a2a2" stroke-width="0.9"/>
<path d="M553.8 85.3L556.7 88.2L553.8 91.1L550.9 88.2Z" fill="#fff" stroke="#a2a2a2" stroke-width="0.9"/>
<path d="M564.3 80.0L567.2 82.9L564.3 85.8L561.4 82.9Z" fill="#fff" stroke="#a2a2a2" stroke-width="0.9"/>
<path d="M574.6 74.6L577.5 77.5L574.6 80.4L571.7 77.5Z" fill="#fff" stroke="#a2a2a2" stroke-width="0.9"/>
<path d="M585.1 69.7L588.0 72.6L585.1 75.5L582.2 72.6Z" fill="#fff" stroke="#a2a2a2" stroke-width="0.9"/>
<path d="M595.6 64.0L598.5 66.9L595.6 69.8L592.7 66.9Z" fill="#fff" stroke="#a2a2a2" stroke-width="0.9"/>
<path d="M605.8 58.4L608.7 61.3L605.8 64.2L602.9 61.3Z" fill="#fff" stroke="#a2a2a2" stroke-width="0.9"/>
<path d="M616.1 53.1L619.0 56.0L616.1 58.9L613.2 56.0Z" fill="#fff" stroke="#a2a2a2" stroke-width="0.9"/>
<path d="M626.4 47.8L629.3 50.7L626.4 53.6L623.5 50.7Z" fill="#fff" stroke="#a2a2a2" stroke-width="0.9"/>
<path d="M636.7 42.4L639.6 45.3L636.7 48.2L633.8 45.3Z" fill="#fff" stroke="#a2a2a2" stroke-width="0.9"/>
<path d="M647.2 37.3L650.1 40.2L647.2 43.1L644.3 40.2Z" fill="#fff" stroke="#a2a2a2" stroke-width="0.9"/>
<path d="M657.7 31.3L660.6 34.2L657.7 37.1L654.8 34.2Z" fill="#fff" stroke="#a2a2a2" stroke-width="0.9"/>
<path d="M46.9 283.5H316.5V481.5" fill="none" stroke="#555" stroke-width="1.2"/>
<path d="M46.9 283.5V485.1" fill="none" stroke="#808080" stroke-width="1.3"/>
<path d="M43.3 481.5H316.5" fill="none" stroke="#444" stroke-width="1.2"/>
<path d="M99.2 481.5V485.1" stroke="#444" stroke-width="1.1"/>
<path d="M151.4 481.5V485.1" stroke="#444" stroke-width="1.1"/>
<path d="M203.7 481.5V485.1" stroke="#444" stroke-width="1.1"/>
<path d="M255.9 481.5V485.1" stroke="#444" stroke-width="1.1"/>
<path d="M308.2 481.5V485.1" stroke="#444" stroke-width="1.1"/>
<path d="M43.3 424.8H46.9" stroke="#808080" stroke-width="1.1"/>
<path d="M43.3 368.2H46.9" stroke="#808080" stroke-width="1.1"/>
<path d="M43.3 311.5H46.9" stroke="#808080" stroke-width="1.1"/>
<text x="39.6" y="486.0" font-size="10.5" font-weight="normal" text-anchor="end" fill="#222">0</text>
<text x="39.6" y="429.3" font-size="10.5" font-weight="normal" text-anchor="end" fill="#222">20</text>
<text x="39.6" y="372.7" font-size="10.5" font-weight="normal" text-anchor="end" fill="#222">40</text>
<text x="39.6" y="316.0" font-size="10.5" font-weight="normal" text-anchor="end" fill="#222">60</text>
<text x="46.9" y="497.7" font-size="10.5" font-weight="normal" text-anchor="middle" fill="#222">0</text>
<text x="99.2" y="497.7" font-size="10.5" font-weight="normal" text-anchor="middle" fill="#222">20</text>
<text x="151.4" y="497.7" font-size="10.5" font-weight="normal" text-anchor="middle" fill="#222">40</text>
<text x="203.7" y="497.7" font-size="10.5" font-weight="normal" text-anchor="middle" fill="#222">60</text>
<text x="255.9" y="497.7" font-size="10.5" font-weight="normal" text-anchor="middle" fill="#222">80</text>
<text x="308.2" y="497.7" font-size="10.5" font-weight="normal" text-anchor="middle" fill="#222">100</text>
<text x="10.9" y="283.5" font-size="12.3" font-weight="bold" fill="#111" stroke="#111" stroke-width="0.3">C</text>
<rect x="246.3" y="382.2" width="68.2" height="43.3" fill="#fff" stroke="#777" stroke-width="1"/>
<rect x="257.9" y="389.2" width="3.8" height="3.8" fill="#000"/>
<path d="M259.8 401.1L262.4 405.8L257.2 405.8Z" fill="#ababab"/>
<path d="M259.8 413.7L262.7 416.6L259.8 419.5L256.9 416.6Z" fill="#6b6b6b"/>
<text x="274.9" y="395.0" font-size="10.6" fill="#111">FN</text>
<text x="274.9" y="407.6" font-size="10.6" fill="#111">FN30</text>
<text x="274.9" y="420.5" font-size="10.6" fill="#111">FN100</text>
<text x="137.0" y="520.5" font-size="13.3" font-weight="bold" fill="#111" stroke="#111" stroke-width="0.35" textLength="73.0" lengthAdjust="spacingAndGlyphs">Shear rate (s</text>
<text x="210.4" y="520.5" font-size="4.6" font-weight="bold" fill="#555" textLength="5.4" lengthAdjust="spacingAndGlyphs">-1</text>
<text x="215.9" y="520.5" font-size="13.3" font-weight="bold" fill="#111" stroke="#111" stroke-width="0.35">)</text>
<text transform="translate(19.9 440.1) rotate(-90)" x="0" y="0" font-size="13.3" font-weight="bold" fill="#111" stroke="#111" stroke-width="0.35" textLength="95.4" lengthAdjust="spacingAndGlyphs">Shear stress (Pa)</text>
<path d="M56.9 437.9L59.7 442.9L54.1 442.9Z" fill="#ababab"/>
<path d="M66.7 450.6L69.5 455.6L63.9 455.6Z" fill="#ababab"/>
<path d="M77.5 451.1L80.3 456.1L74.7 456.1Z" fill="#ababab"/>
<path d="M87.9 450.2L90.7 455.2L85.1 455.2Z" fill="#ababab"/>
<path d="M98.5 448.7L101.3 453.7L95.7 453.7Z" fill="#ababab"/>
<path d="M108.9 445.9L111.7 450.9L106.1 450.9Z" fill="#ababab"/>
<path d="M119.6 442.0L122.4 447.0L116.8 447.0Z" fill="#ababab"/>
<path d="M130.2 436.1L133.0 441.1L127.4 441.1Z" fill="#ababab"/>
<path d="M140.4 429.4L143.2 434.4L137.6 434.4Z" fill="#ababab"/>
<path d="M151.2 420.3L154.0 425.3L148.4 425.3Z" fill="#ababab"/>
<path d="M161.6 411.8L164.4 416.8L158.8 416.8Z" fill="#ababab"/>
<path d="M171.8 403.6L174.6 408.6L169.0 408.6Z" fill="#ababab"/>
<path d="M182.0 395.4L184.8 400.4L179.2 400.4Z" fill="#ababab"/>
<path d="M192.6 388.4L195.4 393.4L189.8 393.4Z" fill="#ababab"/>
<path d="M202.8 381.9L205.6 386.9L200.0 386.9Z" fill="#ababab"/>
<path d="M213.2 374.8L216.0 379.8L210.4 379.8Z" fill="#ababab"/>
<path d="M223.9 367.9L226.7 372.9L221.1 372.9Z" fill="#ababab"/>
<path d="M234.2 362.2L237.0 367.2L231.4 367.2Z" fill="#ababab"/>
<path d="M244.8 356.8L247.6 361.8L242.0 361.8Z" fill="#ababab"/>
<path d="M255.2 351.8L258.0 356.8L252.4 356.8Z" fill="#ababab"/>
<path d="M265.6 346.6L268.4 351.6L262.8 351.6Z" fill="#ababab"/>
<path d="M276.3 342.2L279.1 347.2L273.5 347.2Z" fill="#ababab"/>
<path d="M286.8 337.8L289.6 342.8L284.0 342.8Z" fill="#ababab"/>
<path d="M297.3 333.2L300.1 338.2L294.5 338.2Z" fill="#ababab"/>
<path d="M307.7 328.9L310.5 333.9L304.9 333.9Z" fill="#ababab"/>
<path d="M48.7 476.8L51.3 481.5L46.1 481.5Z" fill="#fff" stroke="#b8b8b8" stroke-width="0.8"/>
<path d="M58.4 473.9L61.0 478.6L55.8 478.6Z" fill="#fff" stroke="#b8b8b8" stroke-width="0.8"/>
<path d="M69.9 468.8L72.5 473.5L67.3 473.5Z" fill="#fff" stroke="#b8b8b8" stroke-width="0.8"/>
<path d="M79.2 466.0L81.8 470.7L76.6 470.7Z" fill="#fff" stroke="#b8b8b8" stroke-width="0.8"/>
<path d="M90.1 462.8L92.7 467.5L87.5 467.5Z" fill="#fff" stroke="#b8b8b8" stroke-width="0.8"/>
<path d="M100.7 458.4L103.3 463.1L98.1 463.1Z" fill="#fff" stroke="#b8b8b8" stroke-width="0.8"/>
<path d="M111.1 454.5L113.7 459.2L108.5 459.2Z" fill="#fff" stroke="#b8b8b8" stroke-width="0.8"/>
<path d="M121.3 449.8L123.9 454.5L118.7 454.5Z" fill="#fff" stroke="#b8b8b8" stroke-width="0.8"/>
<path d="M131.7 444.6L134.3 449.3L129.1 449.3Z" fill="#fff" stroke="#b8b8b8" stroke-width="0.8"/>
<path d="M142.3 438.3L144.9 443.0L139.7 443.0Z" fill="#fff" stroke="#b8b8b8" stroke-width="0.8"/>
<path d="M152.5 431.3L155.1 436.0L149.9 436.0Z" fill="#fff" stroke="#b8b8b8" stroke-width="0.8"/>
<path d="M163.1 423.3L165.7 428.0L160.5 428.0Z" fill="#fff" stroke="#b8b8b8" stroke-width="0.8"/>
<path d="M173.7 414.6L176.3 419.3L171.1 419.3Z" fill="#fff" stroke="#b8b8b8" stroke-width="0.8"/>
<path d="M183.7 406.4L186.3 411.1L181.1 411.1Z" fill="#fff" stroke="#b8b8b8" stroke-width="0.8"/>
<path d="M194.1 397.7L196.7 402.4L191.5 402.4Z" fill="#fff" stroke="#b8b8b8" stroke-width="0.8"/>
<path d="M204.5 389.5L207.1 394.2L201.9 394.2Z" fill="#fff" stroke="#b8b8b8" stroke-width="0.8"/>
<path d="M215.1 381.5L217.7 386.2L212.5 386.2Z" fill="#fff" stroke="#b8b8b8" stroke-width="0.8"/>
<path d="M225.5 373.9L228.1 378.6L222.9 378.6Z" fill="#fff" stroke="#b8b8b8" stroke-width="0.8"/>
<path d="M235.9 367.9L238.5 372.6L233.3 372.6Z" fill="#fff" stroke="#b8b8b8" stroke-width="0.8"/>
<path d="M246.3 361.4L248.9 366.1L243.7 366.1Z" fill="#fff" stroke="#b8b8b8" stroke-width="0.8"/>
<path d="M257.0 354.8L259.6 359.5L254.4 359.5Z" fill="#fff" stroke="#b8b8b8" stroke-width="0.8"/>
<path d="M267.3 348.5L269.9 353.2L264.7 353.2Z" fill="#fff" stroke="#b8b8b8" stroke-width="0.8"/>
<path d="M277.1 343.5L279.7 348.2L274.5 348.2Z" fill="#fff" stroke="#b8b8b8" stroke-width="0.8"/>
<path d="M287.7 338.6L290.3 343.3L285.1 343.3Z" fill="#fff" stroke="#b8b8b8" stroke-width="0.8"/>
<path d="M298.3 336.5L300.9 341.2L295.7 341.2Z" fill="#fff" stroke="#b8b8b8" stroke-width="0.8"/>
<rect x="54.9" y="474.2" width="4.0" height="4.0" fill="#000"/>
<rect x="64.7" y="472.2" width="4.0" height="4.0" fill="#000"/>
<rect x="75.5" y="470.5" width="4.0" height="4.0" fill="#000"/>
<rect x="85.9" y="468.8" width="4.0" height="4.0" fill="#000"/>
<rect x="96.5" y="467.3" width="4.0" height="4.0" fill="#000"/>
<rect x="106.9" y="465.7" width="4.0" height="4.0" fill="#000"/>
<rect x="117.6" y="464.4" width="4.0" height="4.0" fill="#000"/>
<rect x="128.2" y="462.9" width="4.0" height="4.0" fill="#000"/>
<rect x="138.4" y="461.6" width="4.0" height="4.0" fill="#000"/>
<rect x="149.2" y="459.9" width="4.0" height="4.0" fill="#000"/>
<rect x="159.6" y="457.9" width="4.0" height="4.0" fill="#000"/>
<rect x="169.8" y="456.0" width="4.0" height="4.0" fill="#000"/>
<rect x="179.9" y="454.6" width="4.0" height="4.0" fill="#000"/>
<rect x="190.6" y="453.2" width="4.0" height="4.0" fill="#000"/>
<rect x="200.8" y="451.4" width="4.0" height="4.0" fill="#000"/>
<rect x="211.2" y="449.7" width="4.0" height="4.0" fill="#000"/>
<rect x="222.0" y="448.2" width="4.0" height="4.0" fill="#000"/>
<rect x="232.2" y="445.6" width="4.0" height="4.0" fill="#000"/>
<rect x="242.6" y="443.2" width="4.0" height="4.0" fill="#000"/>
<rect x="253.2" y="441.3" width="4.0" height="4.0" fill="#000"/>
<rect x="263.8" y="441.3" width="4.0" height="4.0" fill="#000"/>
<rect x="274.2" y="439.7" width="4.0" height="4.0" fill="#000"/>
<rect x="284.8" y="439.5" width="4.0" height="4.0" fill="#000"/>
<rect x="295.3" y="437.8" width="4.0" height="4.0" fill="#000"/>
<rect x="305.9" y="437.4" width="4.0" height="4.0" fill="#000"/>
<rect x="56.8" y="476.8" width="3.2" height="3.2" fill="#fff" stroke="#4a4a4a" stroke-width="0.8"/>
<rect x="66.8" y="475.2" width="3.2" height="3.2" fill="#fff" stroke="#4a4a4a" stroke-width="0.8"/>
<rect x="77.2" y="473.9" width="3.2" height="3.2" fill="#fff" stroke="#4a4a4a" stroke-width="0.8"/>
<rect x="87.8" y="472.0" width="3.2" height="3.2" fill="#fff" stroke="#4a4a4a" stroke-width="0.8"/>
<rect x="98.0" y="469.8" width="3.2" height="3.2" fill="#fff" stroke="#4a4a4a" stroke-width="0.8"/>
<rect x="108.4" y="468.5" width="3.2" height="3.2" fill="#fff" stroke="#4a4a4a" stroke-width="0.8"/>
<rect x="119.3" y="467.0" width="3.2" height="3.2" fill="#fff" stroke="#4a4a4a" stroke-width="0.8"/>
<rect x="129.7" y="465.3" width="3.2" height="3.2" fill="#fff" stroke="#4a4a4a" stroke-width="0.8"/>
<rect x="140.3" y="463.8" width="3.2" height="3.2" fill="#fff" stroke="#4a4a4a" stroke-width="0.8"/>
<rect x="150.5" y="462.0" width="3.2" height="3.2" fill="#fff" stroke="#4a4a4a" stroke-width="0.8"/>
<rect x="161.1" y="460.7" width="3.2" height="3.2" fill="#fff" stroke="#4a4a4a" stroke-width="0.8"/>
<rect x="171.7" y="459.0" width="3.2" height="3.2" fill="#fff" stroke="#4a4a4a" stroke-width="0.8"/>
<rect x="181.7" y="457.7" width="3.2" height="3.2" fill="#fff" stroke="#4a4a4a" stroke-width="0.8"/>
<rect x="192.5" y="456.2" width="3.2" height="3.2" fill="#fff" stroke="#4a4a4a" stroke-width="0.8"/>
<rect x="202.9" y="454.7" width="3.2" height="3.2" fill="#fff" stroke="#4a4a4a" stroke-width="0.8"/>
<rect x="213.1" y="452.9" width="3.2" height="3.2" fill="#fff" stroke="#4a4a4a" stroke-width="0.8"/>
<rect x="223.5" y="451.8" width="3.2" height="3.2" fill="#fff" stroke="#4a4a4a" stroke-width="0.8"/>
<rect x="234.1" y="450.3" width="3.2" height="3.2" fill="#fff" stroke="#4a4a4a" stroke-width="0.8"/>
<rect x="244.7" y="449.0" width="3.2" height="3.2" fill="#fff" stroke="#4a4a4a" stroke-width="0.8"/>
<rect x="255.1" y="447.5" width="3.2" height="3.2" fill="#fff" stroke="#4a4a4a" stroke-width="0.8"/>
<rect x="265.7" y="445.6" width="3.2" height="3.2" fill="#fff" stroke="#4a4a4a" stroke-width="0.8"/>
<rect x="276.4" y="443.8" width="3.2" height="3.2" fill="#fff" stroke="#4a4a4a" stroke-width="0.8"/>
<rect x="286.8" y="442.1" width="3.2" height="3.2" fill="#fff" stroke="#4a4a4a" stroke-width="0.8"/>
<rect x="296.7" y="440.6" width="3.2" height="3.2" fill="#fff" stroke="#4a4a4a" stroke-width="0.8"/>
<path d="M57.3 339.1L60.3 342.1L57.3 345.1L54.3 342.1Z" fill="#6b6b6b"/>
<path d="M67.3 320.9L70.3 323.9L67.3 326.9L64.3 323.9Z" fill="#6b6b6b"/>
<path d="M78.0 308.9L81.0 311.9L78.0 314.9L75.0 311.9Z" fill="#6b6b6b"/>
<path d="M87.9 301.4L90.9 304.4L87.9 307.4L84.9 304.4Z" fill="#6b6b6b"/>
<path d="M98.2 297.2L101.2 300.2L98.2 303.2L95.2 300.2Z" fill="#6b6b6b"/>
<path d="M108.7 295.0L111.7 298.0L108.7 301.0L105.7 298.0Z" fill="#6b6b6b"/>
<path d="M119.4 295.2L122.4 298.2L119.4 301.2L116.4 298.2Z" fill="#6b6b6b"/>
<path d="M130.0 295.6L133.0 298.6L130.0 301.6L127.0 298.6Z" fill="#6b6b6b"/>
<path d="M140.5 296.2L143.5 299.2L140.5 302.2L137.5 299.2Z" fill="#6b6b6b"/>
<path d="M151.2 297.2L154.2 300.2L151.2 303.2L148.2 300.2Z" fill="#6b6b6b"/>
<path d="M161.5 297.8L164.5 300.8L161.5 303.8L158.5 300.8Z" fill="#6b6b6b"/>
<path d="M171.6 299.2L174.6 302.2L171.6 305.2L168.6 302.2Z" fill="#6b6b6b"/>
<path d="M181.9 300.8L184.9 303.8L181.9 306.8L178.9 303.8Z" fill="#6b6b6b"/>
<path d="M192.3 304.1L195.3 307.1L192.3 310.1L189.3 307.1Z" fill="#6b6b6b"/>
<path d="M202.9 307.3L205.9 310.3L202.9 313.3L199.9 310.3Z" fill="#6b6b6b"/>
<path d="M213.4 308.7L216.4 311.7L213.4 314.7L210.4 311.7Z" fill="#6b6b6b"/>
<path d="M223.9 310.3L226.9 313.3L223.9 316.3L220.9 313.3Z" fill="#6b6b6b"/>
<path d="M234.4 312.6L237.4 315.6L234.4 318.6L231.4 315.6Z" fill="#6b6b6b"/>
<path d="M244.9 313.6L247.9 316.6L244.9 319.6L241.9 316.6Z" fill="#6b6b6b"/>
<path d="M255.1 314.6L258.1 317.6L255.1 320.6L252.1 317.6Z" fill="#6b6b6b"/>
<path d="M265.6 315.6L268.6 318.6L265.6 321.6L262.6 318.6Z" fill="#6b6b6b"/>
<path d="M276.3 316.6L279.3 319.6L276.3 322.6L273.3 319.6Z" fill="#6b6b6b"/>
<path d="M286.8 316.6L289.8 319.6L286.8 322.6L283.8 319.6Z" fill="#6b6b6b"/>
<path d="M297.3 317.0L300.3 320.0L297.3 323.0L294.3 320.0Z" fill="#6b6b6b"/>
<path d="M307.9 316.2L310.9 319.2L307.9 322.2L304.9 319.2Z" fill="#6b6b6b"/>
<path d="M48.7 438.6L51.6 441.5L48.7 444.4L45.8 441.5Z" fill="#fff" stroke="#a2a2a2" stroke-width="0.9"/>
<path d="M58.4 432.1L61.3 435.0L58.4 437.9L55.5 435.0Z" fill="#fff" stroke="#a2a2a2" stroke-width="0.9"/>
<path d="M69.3 431.3L72.2 434.2L69.3 437.1L66.4 434.2Z" fill="#fff" stroke="#a2a2a2" stroke-width="0.9"/>
<path d="M79.2 429.5L82.1 432.4L79.2 435.3L76.3 432.4Z" fill="#fff" stroke="#a2a2a2" stroke-width="0.9"/>
<path d="M90.1 426.1L93.0 429.0L90.1 431.9L87.2 429.0Z" fill="#fff" stroke="#a2a2a2" stroke-width="0.9"/>
<path d="M100.7 423.7L103.6 426.6L100.7 429.5L97.8 426.6Z" fill="#fff" stroke="#a2a2a2" stroke-width="0.9"/>
<path d="M111.1 420.6L114.0 423.5L111.1 426.4L108.2 423.5Z" fill="#fff" stroke="#a2a2a2" stroke-width="0.9"/>
<path d="M120.9 417.6L123.8 420.5L120.9 423.4L118.0 420.5Z" fill="#fff" stroke="#a2a2a2" stroke-width="0.9"/>
<path d="M131.3 413.7L134.2 416.6L131.3 419.5L128.4 416.6Z" fill="#fff" stroke="#a2a2a2" stroke-width="0.9"/>
<path d="M141.9 410.0L144.8 412.9L141.9 415.8L139.0 412.9Z" fill="#fff" stroke="#a2a2a2" stroke-width="0.9"/>
<path d="M152.5 405.9L155.4 408.8L152.5 411.7L149.6 408.8Z" fill="#fff" stroke="#a2a2a2" stroke-width="0.9"/>
<path d="M163.1 402.0L166.0 404.9L163.1 407.8L160.2 404.9Z" fill="#fff" stroke="#a2a2a2" stroke-width="0.9"/>
<path d="M173.7 398.7L176.6 401.6L173.7 404.5L170.8 401.6Z" fill="#fff" stroke="#a2a2a2" stroke-width="0.9"/>
<path d="M183.9 394.2L186.8 397.1L183.9 400.0L181.0 397.1Z" fill="#fff" stroke="#a2a2a2" stroke-width="0.9"/>
<path d="M194.1 389.2L197.0 392.1L194.1 395.0L191.2 392.1Z" fill="#fff" stroke="#a2a2a2" stroke-width="0.9"/>
<path d="M204.9 383.6L207.8 386.5L204.9 389.4L202.0 386.5Z" fill="#fff" stroke="#a2a2a2" stroke-width="0.9"/>
<path d="M215.2 378.4L218.1 381.3L215.2 384.2L212.3 381.3Z" fill="#fff" stroke="#a2a2a2" stroke-width="0.9"/>
<path d="M225.7 373.2L228.6 376.1L225.7 379.0L222.8 376.1Z" fill="#fff" stroke="#a2a2a2" stroke-width="0.9"/>
<path d="M235.9 366.5L238.8 369.4L235.9 372.3L233.0 369.4Z" fill="#fff" stroke="#a2a2a2" stroke-width="0.9"/>
<path d="M246.3 359.3L249.2 362.2L246.3 365.1L243.4 362.2Z" fill="#fff" stroke="#a2a2a2" stroke-width="0.9"/>
<path d="M256.8 350.5L259.7 353.4L256.8 356.3L253.9 353.4Z" fill="#fff" stroke="#a2a2a2" stroke-width="0.9"/>
<path d="M267.2 342.5L270.1 345.4L267.2 348.3L264.3 345.4Z" fill="#fff" stroke="#a2a2a2" stroke-width="0.9"/>
<path d="M277.6 336.3L280.5 339.2L277.6 342.1L274.7 339.2Z" fill="#fff" stroke="#a2a2a2" stroke-width="0.9"/>
<path d="M288.0 328.6L290.9 331.5L288.0 334.4L285.1 331.5Z" fill="#fff" stroke="#a2a2a2" stroke-width="0.9"/>
<path d="M298.3 322.3L301.2 325.2L298.3 328.1L295.4 325.2Z" fill="#fff" stroke="#a2a2a2" stroke-width="0.9"/>
<path d="M401.4 281.4H669.0V473.6" fill="none" stroke="#6a6a6a" stroke-width="1.2"/>
<path d="M401.4 281.4V477.2" fill="none" stroke="#3a3a3a" stroke-width="1.3"/>
<path d="M397.8 473.6H669.0" fill="none" stroke="#8a8a8a" stroke-width="1.2"/>
<path d="M453.3 473.6V477.2" stroke="#8a8a8a" stroke-width="1.1"/>
<path d="M505.1 473.6V477.2" stroke="#8a8a8a" stroke-width="1.1"/>
<path d="M557.0 473.6V477.2" stroke="#8a8a8a" stroke-width="1.1"/>
<path d="M608.8 473.6V477.2" stroke="#8a8a8a" stroke-width="1.1"/>
<path d="M660.7 473.6V477.2" stroke="#8a8a8a" stroke-width="1.1"/>
<path d="M397.8 444.0H401.4" stroke="#3a3a3a" stroke-width="1.1"/>
<path d="M397.8 414.5H401.4" stroke="#3a3a3a" stroke-width="1.1"/>
<path d="M397.8 384.9H401.4" stroke="#3a3a3a" stroke-width="1.1"/>
<path d="M397.8 355.3H401.4" stroke="#3a3a3a" stroke-width="1.1"/>
<path d="M397.8 325.8H401.4" stroke="#3a3a3a" stroke-width="1.1"/>
<path d="M397.8 296.2H401.4" stroke="#3a3a3a" stroke-width="1.1"/>
<text x="394.1" y="476.6" font-size="8.7" font-weight="bold" text-anchor="end" fill="#222" stroke="#222" stroke-width="0.15">0</text>
<text x="394.1" y="447.1" font-size="8.7" font-weight="bold" text-anchor="end" fill="#222" stroke="#222" stroke-width="0.15">20</text>
<text x="394.1" y="417.5" font-size="8.7" font-weight="bold" text-anchor="end" fill="#222" stroke="#222" stroke-width="0.15">40</text>
<text x="394.1" y="387.9" font-size="8.7" font-weight="bold" text-anchor="end" fill="#222" stroke="#222" stroke-width="0.15">60</text>
<text x="394.1" y="358.4" font-size="8.7" font-weight="bold" text-anchor="end" fill="#222" stroke="#222" stroke-width="0.15">80</text>
<text x="394.1" y="328.8" font-size="8.7" font-weight="bold" text-anchor="end" fill="#222" stroke="#222" stroke-width="0.15">100</text>
<text x="394.1" y="299.2" font-size="8.7" font-weight="bold" text-anchor="end" fill="#222" stroke="#222" stroke-width="0.15">120</text>
<text x="401.4" y="487.4" font-size="8.7" font-weight="bold" text-anchor="middle" fill="#222" stroke="#222" stroke-width="0.15">0</text>
<text x="453.3" y="487.4" font-size="8.7" font-weight="bold" text-anchor="middle" fill="#222" stroke="#222" stroke-width="0.15">20</text>
<text x="505.1" y="487.4" font-size="8.7" font-weight="bold" text-anchor="middle" fill="#222" stroke="#222" stroke-width="0.15">40</text>
<text x="557.0" y="487.4" font-size="8.7" font-weight="bold" text-anchor="middle" fill="#222" stroke="#222" stroke-width="0.15">60</text>
<text x="608.8" y="487.4" font-size="8.7" font-weight="bold" text-anchor="middle" fill="#222" stroke="#222" stroke-width="0.15">80</text>
<text x="660.7" y="487.4" font-size="8.7" font-weight="bold" text-anchor="middle" fill="#222" stroke="#222" stroke-width="0.15">100</text>
<text x="353.8" y="283.8" font-size="12.3" font-weight="bold" fill="#111" stroke="#111" stroke-width="0.3">D</text>
<rect x="587.3" y="396.6" width="74.3" height="41.8" fill="#fff" stroke="#777" stroke-width="1"/>
<rect x="598.3" y="403.5" width="3.8" height="3.8" fill="#000"/>
<path d="M600.2 415.7L602.8 420.4L597.6 420.4Z" fill="#ababab"/>
<path d="M600.2 427.7L603.1 430.6L600.2 433.5L597.3 430.6Z" fill="#6b6b6b"/>
<text x="615.1" y="409.3" font-size="10.6" fill="#111">FNT</text>
<text x="615.1" y="422.2" font-size="10.6" fill="#111">FNT30</text>
<text x="615.1" y="434.5" font-size="10.6" fill="#111">FNT100</text>
<text x="494.6" y="513.4" font-size="13.3" font-weight="bold" fill="#111" stroke="#111" stroke-width="0.35" textLength="73.0" lengthAdjust="spacingAndGlyphs">Shear rate (s</text>
<text x="568.0" y="513.4" font-size="4.6" font-weight="bold" fill="#555" textLength="5.4" lengthAdjust="spacingAndGlyphs">-1</text>
<text x="573.5" y="513.4" font-size="13.3" font-weight="bold" fill="#111" stroke="#111" stroke-width="0.35">)</text>
<text transform="translate(370.1 431.2) rotate(-90)" x="0" y="0" font-size="13.3" font-weight="bold" fill="#111" stroke="#111" stroke-width="0.35" textLength="95.5" lengthAdjust="spacingAndGlyphs">Shear stress (Pa)</text>
<path d="M410.5 429.0L413.3 434.0L407.7 434.0Z" fill="#ababab"/>
<path d="M416.3 433.5L419.1 438.5L413.5 438.5Z" fill="#ababab"/>
<path d="M426.6 436.8L429.4 441.8L423.8 441.8Z" fill="#ababab"/>
<path d="M436.8 434.6L439.6 439.6L434.0 439.6Z" fill="#ababab"/>
<path d="M447.4 432.3L450.2 437.3L444.6 437.3Z" fill="#ababab"/>
<path d="M458.0 430.0L460.8 435.0L455.2 435.0Z" fill="#ababab"/>
<path d="M468.4 426.7L471.2 431.7L465.6 431.7Z" fill="#ababab"/>
<path d="M478.8 422.7L481.6 427.7L476.0 427.7Z" fill="#ababab"/>
<path d="M489.0 417.0L491.8 422.0L486.2 422.0Z" fill="#ababab"/>
<path d="M498.9 411.8L501.7 416.8L496.1 416.8Z" fill="#ababab"/>
<path d="M509.3 405.1L512.1 410.1L506.5 410.1Z" fill="#ababab"/>
<path d="M519.7 397.8L522.5 402.8L516.9 402.8Z" fill="#ababab"/>
<path d="M530.3 390.0L533.1 395.0L527.5 395.0Z" fill="#ababab"/>
<path d="M540.9 382.6L543.7 387.6L538.1 387.6Z" fill="#ababab"/>
<path d="M551.4 375.5L554.2 380.5L548.6 380.5Z" fill="#ababab"/>
<path d="M561.6 368.8L564.4 373.8L558.8 373.8Z" fill="#ababab"/>
<path d="M572.1 362.5L574.9 367.5L569.3 367.5Z" fill="#ababab"/>
<path d="M582.4 356.5L585.2 361.5L579.6 361.5Z" fill="#ababab"/>
<path d="M592.9 351.2L595.7 356.2L590.1 356.2Z" fill="#ababab"/>
<path d="M603.6 346.6L606.4 351.6L600.8 351.6Z" fill="#ababab"/>
<path d="M613.8 342.3L616.6 347.3L611.0 347.3Z" fill="#ababab"/>
<path d="M624.3 338.1L627.1 343.1L621.5 343.1Z" fill="#ababab"/>
<path d="M634.8 334.4L637.6 339.4L632.0 339.4Z" fill="#ababab"/>
<path d="M645.1 331.2L647.9 336.2L642.3 336.2Z" fill="#ababab"/>
<path d="M655.2 328.2L658.0 333.2L652.4 333.2Z" fill="#ababab"/>
<path d="M402.7 467.1L405.3 471.8L400.1 471.8Z" fill="#fff" stroke="#b8b8b8" stroke-width="0.8"/>
<path d="M412.9 461.7L415.5 466.4L410.3 466.4Z" fill="#fff" stroke="#b8b8b8" stroke-width="0.8"/>
<path d="M423.3 457.7L425.9 462.4L420.7 462.4Z" fill="#fff" stroke="#b8b8b8" stroke-width="0.8"/>
<path d="M433.9 454.0L436.5 458.7L431.3 458.7Z" fill="#fff" stroke="#b8b8b8" stroke-width="0.8"/>
<path d="M444.0 450.1L446.6 454.8L441.4 454.8Z" fill="#fff" stroke="#b8b8b8" stroke-width="0.8"/>
<path d="M454.2 446.8L456.8 451.5L451.6 451.5Z" fill="#fff" stroke="#b8b8b8" stroke-width="0.8"/>
<path d="M464.7 442.5L467.3 447.2L462.1 447.2Z" fill="#fff" stroke="#b8b8b8" stroke-width="0.8"/>
<path d="M475.2 437.6L477.8 442.3L472.6 442.3Z" fill="#fff" stroke="#b8b8b8" stroke-width="0.8"/>
<path d="M485.4 432.8L488.0 437.5L482.8 437.5Z" fill="#fff" stroke="#b8b8b8" stroke-width="0.8"/>
<path d="M496.0 426.5L498.6 431.2L493.4 431.2Z" fill="#fff" stroke="#b8b8b8" stroke-width="0.8"/>
<path d="M506.1 419.5L508.7 424.2L503.5 424.2Z" fill="#fff" stroke="#b8b8b8" stroke-width="0.8"/>
<path d="M516.5 413.9L519.1 418.6L513.9 418.6Z" fill="#fff" stroke="#b8b8b8" stroke-width="0.8"/>
<path d="M526.9 404.8L529.5 409.5L524.3 409.5Z" fill="#fff" stroke="#b8b8b8" stroke-width="0.8"/>
<path d="M537.3 396.6L539.9 401.3L534.7 401.3Z" fill="#fff" stroke="#b8b8b8" stroke-width="0.8"/>
<path d="M547.8 389.0L550.4 393.7L545.2 393.7Z" fill="#fff" stroke="#b8b8b8" stroke-width="0.8"/>
<path d="M558.1 382.0L560.7 386.7L555.5 386.7Z" fill="#fff" stroke="#b8b8b8" stroke-width="0.8"/>
<path d="M568.6 375.5L571.2 380.2L566.0 380.2Z" fill="#fff" stroke="#b8b8b8" stroke-width="0.8"/>
<path d="M578.8 369.2L581.4 373.9L576.2 373.9Z" fill="#fff" stroke="#b8b8b8" stroke-width="0.8"/>
<path d="M589.1 363.6L591.7 368.3L586.5 368.3Z" fill="#fff" stroke="#b8b8b8" stroke-width="0.8"/>
<path d="M599.2 358.1L601.8 362.8L596.6 362.8Z" fill="#fff" stroke="#b8b8b8" stroke-width="0.8"/>
<path d="M609.5 352.8L612.1 357.5L606.9 357.5Z" fill="#fff" stroke="#b8b8b8" stroke-width="0.8"/>
<path d="M620.0 347.2L622.6 351.9L617.4 351.9Z" fill="#fff" stroke="#b8b8b8" stroke-width="0.8"/>
<path d="M630.3 341.9L632.9 346.6L627.7 346.6Z" fill="#fff" stroke="#b8b8b8" stroke-width="0.8"/>
<path d="M641.3 336.9L643.9 341.6L638.7 341.6Z" fill="#fff" stroke="#b8b8b8" stroke-width="0.8"/>
<path d="M651.6 332.0L654.2 336.7L649.0 336.7Z" fill="#fff" stroke="#b8b8b8" stroke-width="0.8"/>
<rect x="409.4" y="468.1" width="4.0" height="4.0" fill="#000"/>
<rect x="419.5" y="467.3" width="4.0" height="4.0" fill="#000"/>
<rect x="429.6" y="466.2" width="4.0" height="4.0" fill="#000"/>
<rect x="440.0" y="465.8" width="4.0" height="4.0" fill="#000"/>
<rect x="450.4" y="465.5" width="4.0" height="4.0" fill="#000"/>
<rect x="461.2" y="465.1" width="4.0" height="4.0" fill="#000"/>
<rect x="472.5" y="464.6" width="4.0" height="4.0" fill="#000"/>
<rect x="482.7" y="463.9" width="4.0" height="4.0" fill="#000"/>
<rect x="492.8" y="463.5" width="4.0" height="4.0" fill="#000"/>
<rect x="503.0" y="462.8" width="4.0" height="4.0" fill="#000"/>
<rect x="513.6" y="462.3" width="4.0" height="4.0" fill="#000"/>
<rect x="524.0" y="461.6" width="4.0" height="4.0" fill="#000"/>
<rect x="534.0" y="461.2" width="4.0" height="4.0" fill="#000"/>
<rect x="544.2" y="460.7" width="4.0" height="4.0" fill="#000"/>
<rect x="554.7" y="460.5" width="4.0" height="4.0" fill="#000"/>
<rect x="564.8" y="459.7" width="4.0" height="4.0" fill="#000"/>
<rect x="575.5" y="459.3" width="4.0" height="4.0" fill="#000"/>
<rect x="585.7" y="458.5" width="4.0" height="4.0" fill="#000"/>
<rect x="596.2" y="457.9" width="4.0" height="4.0" fill="#000"/>
<rect x="606.5" y="457.3" width="4.0" height="4.0" fill="#000"/>
<rect x="617.0" y="456.9" width="4.0" height="4.0" fill="#000"/>
<rect x="627.3" y="456.5" width="4.0" height="4.0" fill="#000"/>
<rect x="637.6" y="456.3" width="4.0" height="4.0" fill="#000"/>
<rect x="648.0" y="455.9" width="4.0" height="4.0" fill="#000"/>
<rect x="658.3" y="455.7" width="4.0" height="4.0" fill="#000"/>
<rect x="411.4" y="470.0" width="3.2" height="3.2" fill="#fff" stroke="#4a4a4a" stroke-width="0.8"/>
<rect x="421.5" y="469.1" width="3.2" height="3.2" fill="#fff" stroke="#4a4a4a" stroke-width="0.8"/>
<rect x="431.6" y="467.8" width="3.2" height="3.2" fill="#fff" stroke="#4a4a4a" stroke-width="0.8"/>
<rect x="442.0" y="467.3" width="3.2" height="3.2" fill="#fff" stroke="#4a4a4a" stroke-width="0.8"/>
<rect x="452.4" y="466.9" width="3.2" height="3.2" fill="#fff" stroke="#4a4a4a" stroke-width="0.8"/>
<rect x="463.2" y="466.4" width="3.2" height="3.2" fill="#fff" stroke="#4a4a4a" stroke-width="0.8"/>
<rect x="474.5" y="465.7" width="3.2" height="3.2" fill="#fff" stroke="#4a4a4a" stroke-width="0.8"/>
<rect x="484.7" y="464.9" width="3.2" height="3.2" fill="#fff" stroke="#4a4a4a" stroke-width="0.8"/>
<rect x="494.8" y="464.4" width="3.2" height="3.2" fill="#fff" stroke="#4a4a4a" stroke-width="0.8"/>
<rect x="505.0" y="463.6" width="3.2" height="3.2" fill="#fff" stroke="#4a4a4a" stroke-width="0.8"/>
<rect x="515.6" y="462.9" width="3.2" height="3.2" fill="#fff" stroke="#4a4a4a" stroke-width="0.8"/>
<rect x="526.0" y="462.1" width="3.2" height="3.2" fill="#fff" stroke="#4a4a4a" stroke-width="0.8"/>
<rect x="536.0" y="461.6" width="3.2" height="3.2" fill="#fff" stroke="#4a4a4a" stroke-width="0.8"/>
<rect x="546.2" y="460.9" width="3.2" height="3.2" fill="#fff" stroke="#4a4a4a" stroke-width="0.8"/>
<rect x="556.7" y="460.6" width="3.2" height="3.2" fill="#fff" stroke="#4a4a4a" stroke-width="0.8"/>
<rect x="566.8" y="459.7" width="3.2" height="3.2" fill="#fff" stroke="#4a4a4a" stroke-width="0.8"/>
<rect x="577.5" y="459.2" width="3.2" height="3.2" fill="#fff" stroke="#4a4a4a" stroke-width="0.8"/>
<rect x="587.7" y="458.2" width="3.2" height="3.2" fill="#fff" stroke="#4a4a4a" stroke-width="0.8"/>
<rect x="598.2" y="457.5" width="3.2" height="3.2" fill="#fff" stroke="#4a4a4a" stroke-width="0.8"/>
<rect x="608.5" y="456.8" width="3.2" height="3.2" fill="#fff" stroke="#4a4a4a" stroke-width="0.8"/>
<rect x="619.0" y="456.3" width="3.2" height="3.2" fill="#fff" stroke="#4a4a4a" stroke-width="0.8"/>
<rect x="629.3" y="455.8" width="3.2" height="3.2" fill="#fff" stroke="#4a4a4a" stroke-width="0.8"/>
<rect x="639.6" y="455.4" width="3.2" height="3.2" fill="#fff" stroke="#4a4a4a" stroke-width="0.8"/>
<rect x="650.0" y="454.9" width="3.2" height="3.2" fill="#fff" stroke="#4a4a4a" stroke-width="0.8"/>
<path d="M411.3 369.9L414.3 372.9L411.3 375.9L408.3 372.9Z" fill="#6b6b6b"/>
<path d="M421.4 335.3L424.4 338.3L421.4 341.3L418.4 338.3Z" fill="#6b6b6b"/>
<path d="M431.6 307.1L434.6 310.1L431.6 313.1L428.6 310.1Z" fill="#6b6b6b"/>
<path d="M441.9 288.7L444.9 291.7L441.9 294.7L438.9 291.7Z" fill="#6b6b6b"/>
<path d="M452.4 286.1L455.4 289.1L452.4 292.1L449.4 289.1Z" fill="#6b6b6b"/>
<path d="M463.3 295.8L466.3 298.8L463.3 301.8L460.3 298.8Z" fill="#6b6b6b"/>
<path d="M473.6 311.2L476.6 314.2L473.6 317.2L470.6 314.2Z" fill="#6b6b6b"/>
<path d="M484.0 325.8L487.0 328.8L484.0 331.8L481.0 328.8Z" fill="#6b6b6b"/>
<path d="M493.7 335.1L496.7 338.1L493.7 341.1L490.7 338.1Z" fill="#6b6b6b"/>
<path d="M504.2 342.1L507.2 345.1L504.2 348.1L501.2 345.1Z" fill="#6b6b6b"/>
<path d="M514.5 345.8L517.5 348.8L514.5 351.8L511.5 348.8Z" fill="#6b6b6b"/>
<path d="M525.0 346.0L528.0 349.0L525.0 352.0L522.0 349.0Z" fill="#6b6b6b"/>
<path d="M535.5 345.0L538.5 348.0L535.5 351.0L532.5 348.0Z" fill="#6b6b6b"/>
<path d="M545.8 341.7L548.8 344.7L545.8 347.7L542.8 344.7Z" fill="#6b6b6b"/>
<path d="M556.3 338.5L559.3 341.5L556.3 344.5L553.3 341.5Z" fill="#6b6b6b"/>
<path d="M566.8 337.1L569.8 340.1L566.8 343.1L563.8 340.1Z" fill="#6b6b6b"/>
<path d="M577.1 335.2L580.1 338.2L577.1 341.2L574.1 338.2Z" fill="#6b6b6b"/>
<path d="M587.7 332.6L590.7 335.6L587.7 338.6L584.7 335.6Z" fill="#6b6b6b"/>
<path d="M598.2 330.0L601.2 333.0L598.2 336.0L595.2 333.0Z" fill="#6b6b6b"/>
<path d="M608.7 328.0L611.7 331.0L608.7 334.0L605.7 331.0Z" fill="#6b6b6b"/>
<path d="M619.2 326.3L622.2 329.3L619.2 332.3L616.2 329.3Z" fill="#6b6b6b"/>
<path d="M629.5 323.7L632.5 326.7L629.5 329.7L626.5 326.7Z" fill="#6b6b6b"/>
<path d="M639.9 321.7L642.9 324.7L639.9 327.7L636.9 324.7Z" fill="#6b6b6b"/>
<path d="M650.0 319.7L653.0 322.7L650.0 325.7L647.0 322.7Z" fill="#6b6b6b"/>
<path d="M660.5 316.4L663.5 319.4L660.5 322.4L657.5 319.4Z" fill="#6b6b6b"/>
<path d="M402.7 448.1L405.6 451.0L402.7 453.9L399.8 451.0Z" fill="#fff" stroke="#a2a2a2" stroke-width="0.9"/>
<path d="M412.9 443.4L415.8 446.3L412.9 449.2L410.0 446.3Z" fill="#fff" stroke="#a2a2a2" stroke-width="0.9"/>
<path d="M423.3 441.6L426.2 444.5L423.3 447.4L420.4 444.5Z" fill="#fff" stroke="#a2a2a2" stroke-width="0.9"/>
<path d="M433.9 439.3L436.8 442.2L433.9 445.1L431.0 442.2Z" fill="#fff" stroke="#a2a2a2" stroke-width="0.9"/>
<path d="M444.0 437.5L446.9 440.4L444.0 443.3L441.1 440.4Z" fill="#fff" stroke="#a2a2a2" stroke-width="0.9"/>
<path d="M454.2 435.5L457.1 438.4L454.2 441.3L451.3 438.4Z" fill="#fff" stroke="#a2a2a2" stroke-width="0.9"/>
<path d="M464.8 432.3L467.7 435.2L464.8 438.1L461.9 435.2Z" fill="#fff" stroke="#a2a2a2" stroke-width="0.9"/>
<path d="M475.2 429.4L478.1 432.3L475.2 435.2L472.3 432.3Z" fill="#fff" stroke="#a2a2a2" stroke-width="0.9"/>
<path d="M485.4 425.3L488.3 428.2L485.4 431.1L482.5 428.2Z" fill="#fff" stroke="#a2a2a2" stroke-width="0.9"/>
<path d="M496.0 421.7L498.9 424.6L496.0 427.5L493.1 424.6Z" fill="#fff" stroke="#a2a2a2" stroke-width="0.9"/>
<path d="M506.1 417.2L509.0 420.1L506.1 423.0L503.2 420.1Z" fill="#fff" stroke="#a2a2a2" stroke-width="0.9"/>
<path d="M516.5 412.6L519.4 415.5L516.5 418.4L513.6 415.5Z" fill="#fff" stroke="#a2a2a2" stroke-width="0.9"/>
<path d="M526.9 407.7L529.8 410.6L526.9 413.5L524.0 410.6Z" fill="#fff" stroke="#a2a2a2" stroke-width="0.9"/>
<path d="M537.3 402.3L540.2 405.2L537.3 408.1L534.4 405.2Z" fill="#fff" stroke="#a2a2a2" stroke-width="0.9"/>
<path d="M547.8 396.6L550.7 399.5L547.8 402.4L544.9 399.5Z" fill="#fff" stroke="#a2a2a2" stroke-width="0.9"/>
<path d="M558.1 391.2L561.0 394.1L558.1 397.0L555.2 394.1Z" fill="#fff" stroke="#a2a2a2" stroke-width="0.9"/>
<path d="M568.6 385.1L571.5 388.0L568.6 390.9L565.7 388.0Z" fill="#fff" stroke="#a2a2a2" stroke-width="0.9"/>
<path d="M578.8 378.6L581.7 381.5L578.8 384.4L575.9 381.5Z" fill="#fff" stroke="#a2a2a2" stroke-width="0.9"/>
<path d="M589.1 371.8L592.0 374.7L589.1 377.6L586.2 374.7Z" fill="#fff" stroke="#a2a2a2" stroke-width="0.9"/>
<path d="M599.6 364.3L602.5 367.2L599.6 370.1L596.7 367.2Z" fill="#fff" stroke="#a2a2a2" stroke-width="0.9"/>
<path d="M609.9 358.0L612.8 360.9L609.9 363.8L607.0 360.9Z" fill="#fff" stroke="#a2a2a2" stroke-width="0.9"/>
<path d="M620.4 350.5L623.3 353.4L620.4 356.3L617.5 353.4Z" fill="#fff" stroke="#a2a2a2" stroke-width="0.9"/>
<path d="M630.9 342.2L633.8 345.1L630.9 348.0L628.0 345.1Z" fill="#fff" stroke="#a2a2a2" stroke-width="0.9"/>
<path d="M641.3 333.3L644.2 336.2L641.3 339.1L638.4 336.2Z" fill="#fff" stroke="#a2a2a2" stroke-width="0.9"/>
<path d="M651.6 320.4L654.5 323.3L651.6 326.2L648.7 323.3Z" fill="#fff" stroke="#a2a2a2" stroke-width="0.9"/>
<rect x="0" y="0" width="1" height="531" fill="#9a9a9a"/>
<rect x="1" y="0" width="1.2" height="531" fill="#111"/>
<rect x="0" y="0" width="708" height="1.8" fill="#333"/>
<rect x="706" y="0" width="2" height="531" fill="#0a0a0a"/>
<rect x="0" y="528.8" width="708" height="1.2" fill="#111"/>
<rect x="0" y="530" width="708" height="1" fill="#8a8a8a"/>
<rect x="341.9" y="0" width="1.6" height="531" fill="#262626"/>
<path d="M0 262.2L708 265.0" stroke="#1e1e1e" stroke-width="1.2"/>
</g>
</svg></body></html>
